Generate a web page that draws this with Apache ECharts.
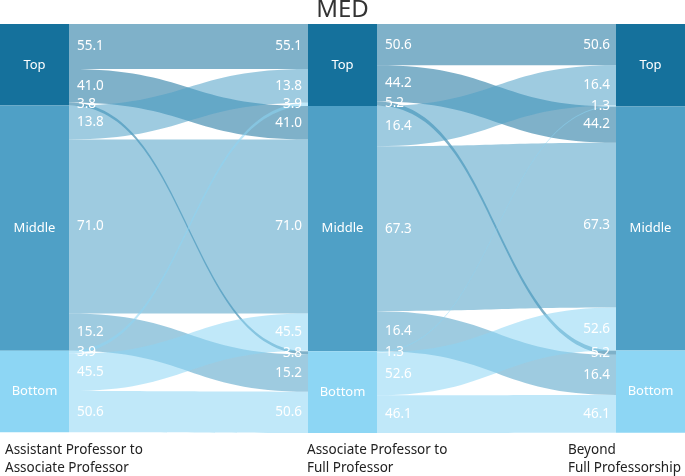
<!DOCTYPE html>
<html>
<head>
<meta charset="utf-8">
<script src="https://cdn.jsdelivr.net/npm/echarts@6/dist/echarts.min.js"></script>
<style>
html, body { margin: 0; padding: 0; background: #fff; }
#main { width: 685px; height: 476px; }
</style>
</head>
<body>
<div id="main"></div>
<script>
// groups (row = from, col = to)
var levels = ['Top', 'Middle', 'Bottom'];
var levelShare = [1, 3, 1]; // relative size of each group
var stageNames = ['Assistant Professor to\nAssociate Professor', 'Associate Professor to\nFull Professor', 'Beyond\nFull Professorship'];
// percent of each "from" group going to each "to" group
var stage1Pct = [
	[55.1, 41.0, 3.8],
	[13.8, 71.0, 15.2],
	[3.9, 45.5, 50.6]
];
var stage2Pct = [
	[50.6, 44.2, 5.2],
	[16.4, 67.3, 16.4],
	[1.3, 52.6, 46.1]
];
var nodeColors = ['#15719c', '#4fa0c6', '#8dd6f4'];
var fontName = '"Noto Sans", sans-serif';

var nodes = [];
for (var s = 0; s < 3; s++) {
	for (var i = 0; i < levels.length; i++) {
		nodes.push({
			name: 's' + s + '_' + levels[i],
			itemStyle: { color: nodeColors[i] }
		});
	}
}
var links = [];
var stages = [stage1Pct, stage2Pct];
for (var s = 0; s < stages.length; s++) {
	for (var i = 0; i < 3; i++) {
		for (var j = 0; j < 3; j++) {
			links.push({
				source: 's' + s + '_' + levels[i],
				target: 's' + (s + 1) + '_' + levels[j],
				value: stages[s][i][j] * levelShare[i],
				pct: stages[s][i][j]
			});
		}
	}
}

var myChart = echarts.init(document.getElementById('main'));
var option = {
	animation: false,
	title: {
		text: 'MED',
		left: 'center',
		top: -2,
		padding: 0,
		textStyle: { fontSize: 24, fontWeight: 'normal', color: '#333', fontFamily: fontName }
	},
	series: [{
		type: 'sankey',
		left: 0,
		right: 0,
		top: 24,
		bottom: 43,
		nodeWidth: 69,
		nodeGap: 0,
		layoutIterations: 0,
		draggable: false,
		emphasis: { disabled: true },
		data: nodes,
		links: links,
		itemStyle: { borderWidth: 0 },
		lineStyle: { color: 'source', opacity: 0.55, curveness: 0.5 },
		label: {
			position: 'inside',
			color: '#fff',
			fontSize: 13,
			fontFamily: fontName,
			formatter: function (p) { return p.name.split('_')[1]; }
		}
	}]
};
myChart.setOption(option);

// 在连线两端放百分比
var series = myChart.getModel().getSeriesByIndex(0);
var box = series.layoutInfo || { x: 0, y: 24 };
var graph = series.getGraph();
var texts = [];
graph.eachEdge(function (edge) {
	var l = edge.getLayout();
	var n1 = edge.node1.getLayout();
	var n2 = edge.node2.getLayout();
	var txt = links[edge.dataIndex].pct.toFixed(1);
	texts.push({
		type: 'text', z: 100,
		x: box.x + n1.x + n1.dx + 8,
		y: box.y + n1.y + l.sy + l.dy / 2,
		style: { text: txt, fill: '#fff', font: '13.5px ' + fontName, align: 'left', verticalAlign: 'middle' }
	});
	texts.push({
		type: 'text', z: 100,
		x: box.x + n2.x - 6,
		y: box.y + n2.y + l.ty + l.dy / 2,
		style: { text: txt, fill: '#fff', font: '13.5px ' + fontName, align: 'right', verticalAlign: 'middle' }
	});
});
var stageX = [5, 307, 568];
for (var k = 0; k < stageNames.length; k++) {
	texts.push({
		type: 'text', z: 100,
		x: stageX[k], y: 441,
		style: { text: stageNames[k], fill: '#222', font: '13.5px ' + fontName, lineHeight: 18, align: 'left', verticalAlign: 'top' }
	});
}
myChart.setOption({ graphic: texts });
</script>
</body>
</html>
